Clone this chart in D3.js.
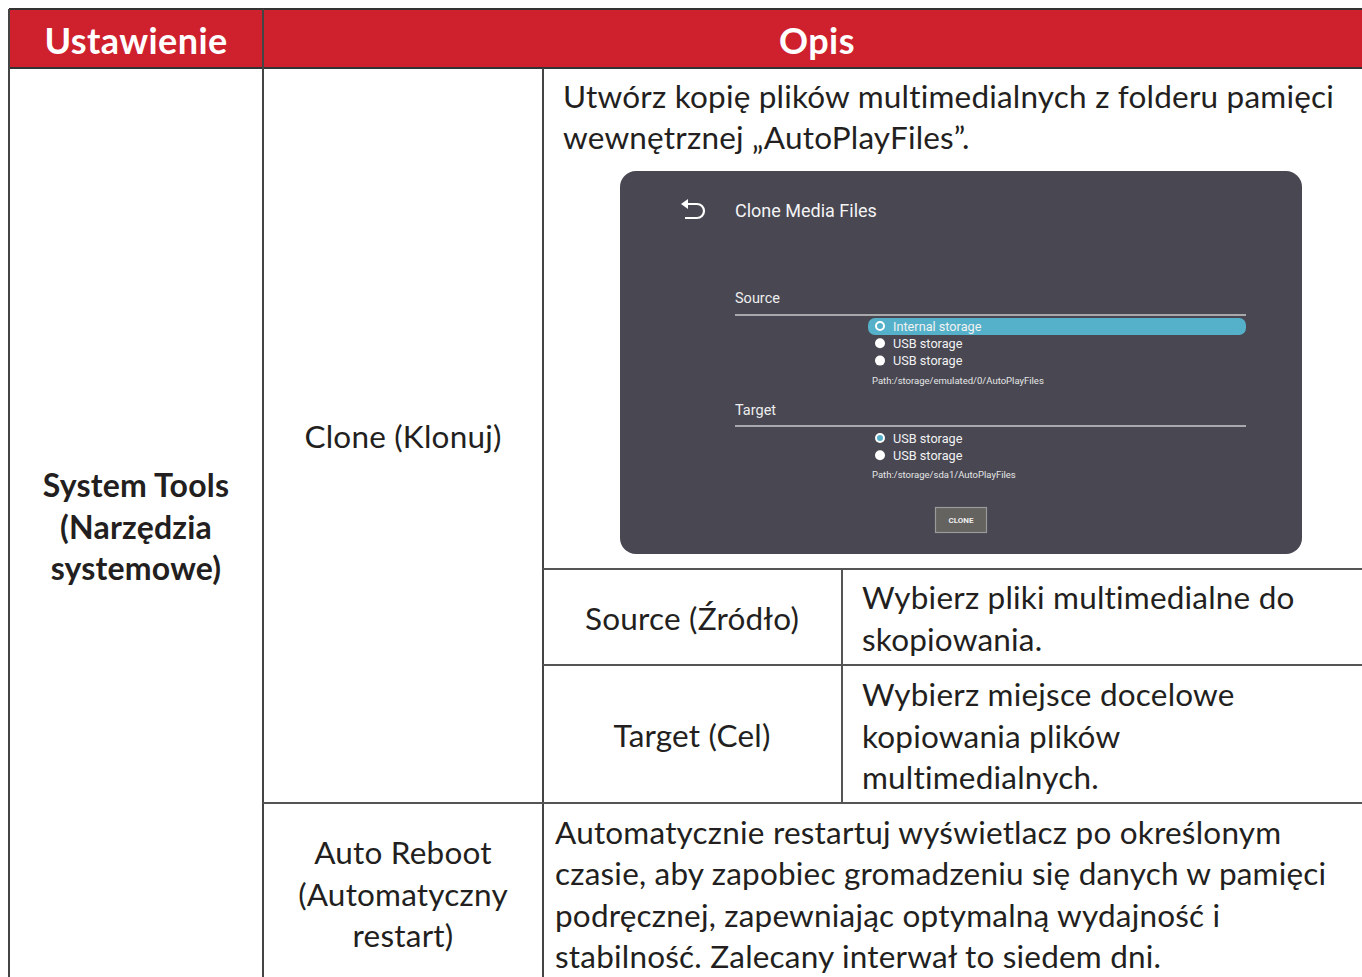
<!DOCTYPE html>
<html><head><meta charset="utf-8">
<script src="https://cdn.jsdelivr.net/npm/d3@7/dist/d3.min.js"></script>
<style>body{margin:0;background:#fff;overflow:hidden}svg{display:block}</style>
</head><body>
<script>
const headers = ["Ustawienie", "Opis"];
const settingLines = ["System Tools", "(Narzędzia", "systemowe)"];
const subSettings = [["Clone (Klonuj)"], ["Auto Reboot", "(Automatyczny", "restart)"]];
const cloneDesc = ["Utwórz kopię plików multimedialnych z folderu pamięci", "wewnętrznej „AutoPlayFiles”."];
const optionNames = [["Source (Źródło)"], ["Target (Cel)"]];
const optionDescs = [["Wybierz pliki multimedialne do", "skopiowania."], ["Wybierz miejsce docelowe", "kopiowania plików", "multimedialnych."]];
const rebootDesc = ["Automatycznie restartuj wyświetlacz po określonym", "czasie, aby zapobiec gromadzeniu się danych w pamięci", "podręcznej, zapewniając optymalną wydajność i", "stabilność. Zalecany interwał to siedem dni."];
const screenTitle = "Clone Media Files";
const sourceLabel = "Source";
const sourceItems = ["Internal storage", "USB storage", "USB storage"];
const sourcePath = "Path:/storage/emulated/0/AutoPlayFiles";
const targetLabel = "Target";
const targetItems = ["USB storage", "USB storage"];
const targetPath = "Path:/storage/sda1/AutoPlayFiles";
const buttonLabel = "CLONE";

const W = 1362, H = 977;
const svg = d3.select("body").append("svg").attr("width", W).attr("height", H);
const FONT = "Lato, 'Open Sans', sans-serif";
const UI = "Roboto, sans-serif";

// header
svg.append("rect").attr("x", 9).attr("y", 9).attr("width", W).attr("height", 59).attr("fill", "#cf202e");
const hx = [136, 817];
svg.selectAll("text.h").data(headers).join("text").attr("class", "h")
  .attr("x", (d, i) => hx[i]).attr("y", 54).attr("text-anchor", "middle")
  .attr("font-family", FONT).attr("font-weight", 700).attr("font-size", 36).attr("letter-spacing", 0.4)
  .attr("fill", "#fff").text(d => d);

// grid lines
const lines = [
  [9, 9, W, 9, "#333"], [9, 68, W, 68, "#333"],
  [9, 9, 9, H, "#444"], [263, 9, 263, H, "#444"], [543, 68, 543, H, "#444"],
  [842, 569, 842, 803, "#555"],
  [543, 569, W, 569, "#555"], [543, 665, W, 665, "#555"], [263, 803, W, 803, "#555"]
];
svg.selectAll("line.g").data(lines).join("line").attr("class", "g")
  .attr("x1", d => d[0]).attr("y1", d => d[1]).attr("x2", d => d[2]).attr("y2", d => d[3])
  .attr("stroke", d => d[4]).attr("stroke-width", 2);

function block(lines, x, y0, lh, anchor, size, weight) {
  const g = svg.append("g");
  g.selectAll("text").data(lines).join("text")
    .attr("x", x).attr("y", (d, i) => y0 + i * lh).attr("text-anchor", anchor)
    .attr("font-family", FONT).attr("font-size", size).attr("font-weight", weight || 400)
    .attr("letter-spacing", 0.2)
    .attr("fill", "#231f20").text(d => d);
  return g;
}
const FS = 31.5, LH = 41.5;
block(settingLines, 136, 497, LH, "middle", 32, 700);
block(subSettings[0], 403, 448, LH, "middle", FS);
block(subSettings[1], 403, 864, LH, "middle", FS);
block(cloneDesc, 563, 108, 41, "start", FS);
block(optionNames[0], 692, 630, LH, "middle", FS);
block(optionNames[1], 692, 747, LH, "middle", FS);
block(optionDescs[0], 862, 609, LH, "start", FS);
block(optionDescs[1], 862, 706, LH, "start", FS);
block(rebootDesc, 555, 844, 41.3, "start", FS);

// screenshot panel
const p = svg.append("g");
p.append("rect").attr("x", 620).attr("y", 171).attr("width", 682).attr("height", 383).attr("rx", 16).attr("fill", "#484752");
// back arrow
p.append("path").attr("d", "M685,204 L697,204 A7,7 0 0 1 697,218 L685,218")
  .attr("fill", "none").attr("stroke", "#fff").attr("stroke-width", 2.2);
p.append("path").attr("d", "M681,204 L688,199 L688,209 Z").attr("fill", "#fff");
p.append("text").attr("x", 735).attr("y", 217).attr("font-family", UI).attr("font-size", 18).attr("fill", "#f4f4f4").text(screenTitle);

function section(label, labelY, lineY, items, itemY0, selIdx, highlight, path, pathY) {
  p.append("text").attr("x", 735).attr("y", labelY).attr("font-family", UI).attr("font-size", 14.5).attr("fill", "#eee").text(label);
  p.append("line").attr("x1", 735).attr("x2", 1246).attr("y1", lineY).attr("y2", lineY).attr("stroke", "#c8c8cc").attr("stroke-width", 1.5);
  if (highlight) p.append("rect").attr("x", 868).attr("y", itemY0 - 9).attr("width", 378).attr("height", 17).attr("rx", 7).attr("fill", "#55b1c9");
  items.forEach((t, i) => {
    const cy = itemY0 + i * 17.3 - 1;
    if (i === selIdx && highlight) {
      p.append("circle").attr("cx", 880).attr("cy", cy).attr("r", 4).attr("fill", "none").attr("stroke", "#fff").attr("stroke-width", 2);
    } else if (i === selIdx) {
      p.append("circle").attr("cx", 880).attr("cy", cy).attr("r", 5).attr("fill", "#fff");
      p.append("circle").attr("cx", 880).attr("cy", cy).attr("r", 3).attr("fill", "#55b1c9");
    } else {
      p.append("circle").attr("cx", 880).attr("cy", cy).attr("r", 5).attr("fill", "#fff");
    }
    p.append("text").attr("x", 893).attr("y", cy + 4.5).attr("font-family", UI).attr("font-size", 12.7).attr("fill", "#f2f2f2").text(t);
  });
  p.append("text").attr("x", 872).attr("y", pathY).attr("font-family", UI).attr("font-size", 9.5).attr("fill", "#e6e6e6").text(path);
}
section(sourceLabel, 303, 315, sourceItems, 327, 0, true, sourcePath, 384);
section(targetLabel, 415, 426, targetItems, 439, 0, false, targetPath, 478);

p.append("rect").attr("x", 935.5).attr("y", 507.5).attr("width", 51).attr("height", 25).attr("fill", "#646360").attr("stroke", "#9a9a9a").attr("stroke-width", 1.2);
p.append("text").attr("x", 961).attr("y", 523).attr("text-anchor", "middle").attr("font-family", UI).attr("font-size", 8).attr("font-weight", 700).attr("fill", "#eee").text(buttonLabel);
</script>
</body></html>
